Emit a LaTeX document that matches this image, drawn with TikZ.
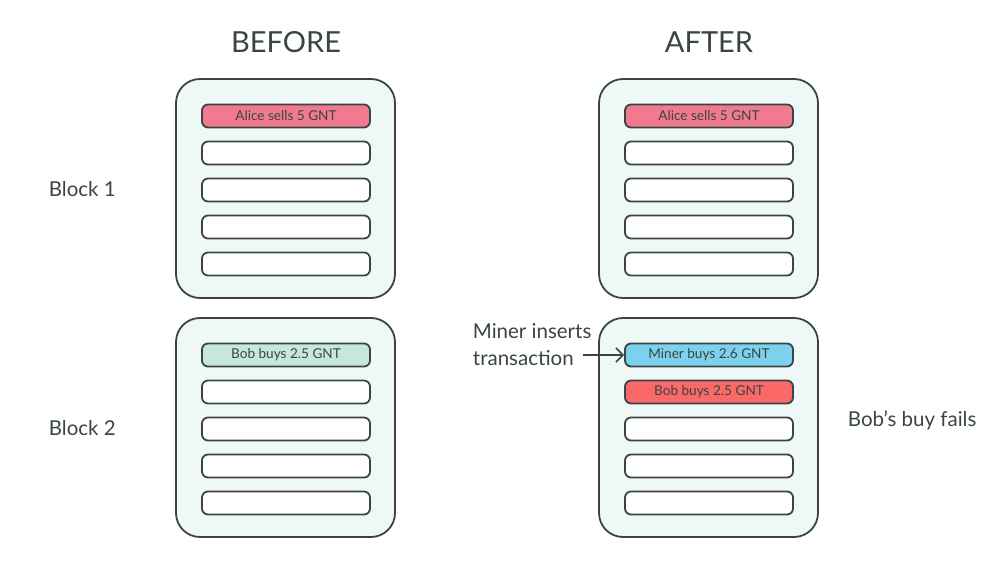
\documentclass[tikz,border=0pt]{standalone}
\usepackage{fontspec}
\setmainfont{Lato}
\usetikzlibrary{arrows.meta,positioning}
\definecolor{ink}{RGB}{58,68,68}
\definecolor{blockfill}{RGB}{238,248,247}
\definecolor{alicepink}{RGB}{242,122,142}
\definecolor{bobmint}{RGB}{198,232,220}
\definecolor{minerblue}{RGB}{124,210,236}
\definecolor{bobred}{RGB}{250,104,104}

\begin{document}
\begin{tikzpicture}[x=1pt,y=-1pt,line width=1.8pt,
    block/.style={draw=ink,fill=blockfill,rounded corners=24pt,minimum width=219pt,minimum height=219pt,inner sep=0pt},
    txrow/.style={draw=ink,fill=white,rounded corners=6pt,minimum width=168pt,minimum height=23pt,inner sep=0pt,text=ink,font=\fontsize{13.6}{15}\selectfont},
    caption/.style={text=ink,font=\fontsize{20.5}{24}\selectfont,align=left,inner sep=0pt}]
    \useasboundingbox (0,0) rectangle (1000,577);
    % titles
    \node [text=ink,font=\fontsize{29}{32}\selectfont] (before) at (286,42) {BEFORE};
    \node [text=ink,font=\fontsize{29}{32}\selectfont] (after) at (709,42) {AFTER};
    % blocks
    \node [block] (B1) at (285.5,188.5) {};
    \node [block] (B2) at (285.5,427.5) {};
    \node [block] (A1) at (708.5,188.5) {};
    \node [block] (A2) at (708.5,427.5) {};
    % side labels
    \node [caption,anchor=west] (lbl1) at (48,189) {Block 1};
    \node [caption,anchor=west] (lbl2) at (48,428) {Block 2};
    \node [caption,anchor=west] (fails) at (847,420) {Bob\symbol{39}s buy fails};
    % transactions, before
    \node [txrow,fill=alicepink] (b1r1) at (286,116) {Alice sells 5 GNT};
    \foreach \y/\n in {153/2,190/3,227/4,264/5}
        \node [txrow] (b1r\n) at (286,\y) {};
    \node [txrow,fill=bobmint] (b2r1) at (286,355) {Bob buys 2.5 GNT};
    \foreach \y/\n in {392/2,429/3,466/4,503/5}
        \node [txrow] (b2r\n) at (286,\y) {};
    % transactions, after
    \node [txrow,fill=alicepink] (a1r1) at (709,116) {Alice sells 5 GNT};
    \foreach \y/\n in {153/2,190/3,227/4,264/5}
        \node [txrow] (a1r\n) at (709,\y) {};
    \node [txrow,fill=minerblue] (a2r1) at (709,355) {Miner buys 2.6 GNT};
    \node [txrow,fill=bobred] (a2r2) at (709,392) {Bob buys 2.5 GNT};
    \foreach \y/\n in {429/3,466/4,503/5}
        \node [txrow] (a2r\n) at (709,\y) {};
    % miner note
    \node [caption,anchor=west] (miner) at (472,345) {Miner inserts\\[3pt]transaction};
    \coordinate (tail) at (583,355);
    \draw [ink,line width=1.6pt,-{Straight Barb[length=7pt,width=14pt,line width=1.6pt]}] (tail) -- (a2r1.west);
\end{tikzpicture}
\end{document}
